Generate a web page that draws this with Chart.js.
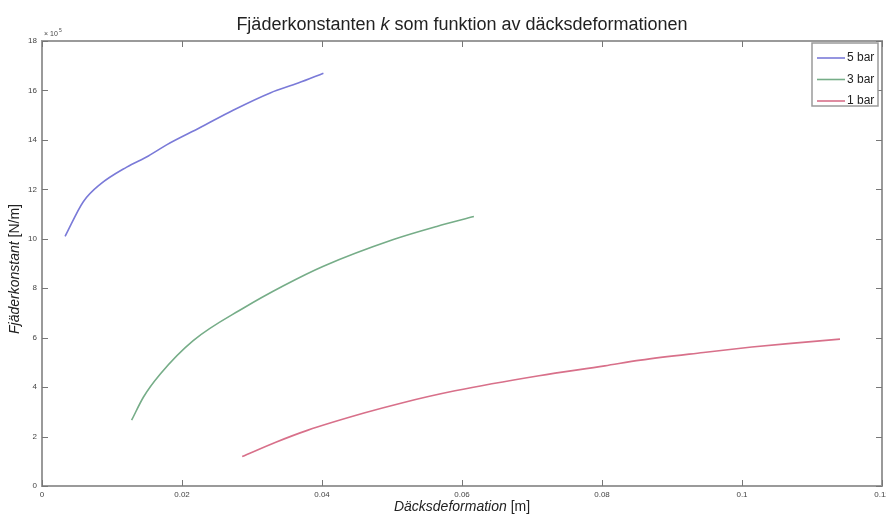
<!DOCTYPE html>
<html>
<head>
<meta charset="utf-8">
<script src="https://cdn.jsdelivr.net/npm/chart.js@4.4.1/dist/chart.umd.min.js"></script>
<style>
  html, body { margin: 0; padding: 0; background: #fff; }
  #wrap { width: 886px; height: 515px; }
</style>
</head>
<body>
<div id="wrap"><canvas id="chart"></canvas></div>
<script>
// ---- data ----
const xTicks = [0, 0.02, 0.04, 0.06, 0.08, 0.1, 0.12];
const yTicks = [0, 2, 4, 6, 8, 10, 12, 14, 16, 18];

const bar5X = [0.0033, 0.0059, 0.0083, 0.0121, 0.0152, 0.0178, 0.0226, 0.0273, 0.0326, 0.0366, 0.0402];
const bar5Y = [10.1, 11.5, 12.2, 12.9, 13.35, 13.8, 14.5, 15.2, 15.9, 16.3, 16.7];

const bar3X = [0.0128, 0.0145, 0.0169, 0.0216, 0.0288, 0.0345, 0.0402, 0.0502, 0.0564, 0.0617];
const bar3Y = [2.66, 3.6, 4.53, 5.88, 7.2, 8.1, 8.89, 9.97, 10.5, 10.9];

const bar1X = [0.0286, 0.0334, 0.0379, 0.0460, 0.0514, 0.0590, 0.0710, 0.0804, 0.0855, 0.0945, 0.1014, 0.1066, 0.1140];
const bar1Y = [1.19, 1.77, 2.25, 2.95, 3.36, 3.85, 4.46, 4.86, 5.09, 5.40, 5.62, 5.76, 5.94];

const seriesLabels = ['5 bar', '3 bar', '1 bar'];
const seriesColors = ['#7a7ad8', '#76ad88', '#d8708a'];

const FONT = '"Liberation Sans", Arial, sans-serif';
const FRAME = '#9a9a9a';

function pts(xs, ys) { return xs.map((x, i) => ({ x, y: ys[i] })); }

function line(label, data, color) {
  return {
    label, data,
    borderColor: color,
    borderWidth: 1.6,
    pointRadius: 0,
    fill: false,
    cubicInterpolationMode: 'monotone',
  };
}

// frame, inward ticks, mixed-style texts and the inset legend
const decor = {
  id: 'decor',
  afterDraw(chart) {
    const { ctx, chartArea: a, scales } = chart;
    ctx.save();
    ctx.strokeStyle = FRAME;
    ctx.lineWidth = 2;
    ctx.strokeRect(a.left, a.top, a.right - a.left, a.bottom - a.top);

    ctx.lineWidth = 1;
    ctx.strokeStyle = '#777';
    ctx.beginPath();
    xTicks.forEach(v => {
      const px = Math.round(scales.x.getPixelForValue(v)) + 0.5;
      ctx.moveTo(px, a.bottom); ctx.lineTo(px, a.bottom - 6);
      ctx.moveTo(px, a.top); ctx.lineTo(px, a.top + 6);
    });
    yTicks.forEach(v => {
      const py = Math.round(scales.y.getPixelForValue(v)) + 0.5;
      ctx.moveTo(a.left, py); ctx.lineTo(a.left + 6, py);
      ctx.moveTo(a.right, py); ctx.lineTo(a.right - 6, py);
    });
    ctx.stroke();

    ctx.fillStyle = '#222';
    ctx.textBaseline = 'middle';

    // title with italic k
    drawParts(ctx, [
      ['Fjäderkonstanten ', '18px ' + FONT],
      ['k', 'italic 18px ' + FONT],
      [' som funktion av däcksdeformationen', '18px ' + FONT],
    ], (a.left + a.right) / 2, 25);

    // x axis label
    drawParts(ctx, [
      ['Däcksdeformation', 'italic 14px ' + FONT],
      [' [m]', '14px ' + FONT],
    ], (a.left + a.right) / 2, 507);

    // y axis label, rotated
    ctx.save();
    ctx.translate(15, 269);
    ctx.rotate(-Math.PI / 2);
    drawParts(ctx, [
      ['Fjäderkonstant', 'italic 14px ' + FONT],
      [' [N/m]', '14px ' + FONT],
    ], 0, 0);
    ctx.restore();

    // exponent
    ctx.fillStyle = '#444';
    ctx.textAlign = 'left';
    ctx.font = '7px ' + FONT;
    ctx.fillText('× 10', a.left + 2, a.top - 7);
    ctx.font = '5px ' + FONT;
    ctx.fillText('5', a.left + 17, a.top - 10);

    // legend box
    const lx = 812, ly = 43, lw = 66, lh = 63;
    ctx.fillStyle = '#fff';
    ctx.fillRect(lx, ly, lw, lh);
    ctx.strokeStyle = FRAME;
    ctx.lineWidth = 1.5;
    ctx.strokeRect(lx, ly, lw, lh);
    chart.data.datasets.forEach((ds, i) => {
      const yy = ly + 15 + i * 21.5;
      ctx.strokeStyle = ds.borderColor;
      ctx.lineWidth = 1.6;
      ctx.beginPath();
      ctx.moveTo(lx + 5, yy); ctx.lineTo(lx + 33, yy);
      ctx.stroke();
      ctx.fillStyle = '#222';
      ctx.font = '12px ' + FONT;
      ctx.textAlign = 'left';
      ctx.fillText(ds.label, lx + 35, yy);
    });
    ctx.restore();
  }
};

function drawParts(ctx, parts, cx, cy) {
  let total = 0;
  parts.forEach(([t, f]) => { ctx.font = f; total += ctx.measureText(t).width; });
  let x = cx - total / 2;
  ctx.textAlign = 'left';
  parts.forEach(([t, f]) => {
    ctx.font = f;
    ctx.fillText(t, x, cy);
    x += ctx.measureText(t).width;
  });
}

new Chart(document.getElementById('chart'), {
  type: 'line',
  data: {
    datasets: [
      line(seriesLabels[0], pts(bar5X, bar5Y), seriesColors[0]),
      line(seriesLabels[1], pts(bar3X, bar3Y), seriesColors[1]),
      line(seriesLabels[2], pts(bar1X, bar1Y), seriesColors[2]),
    ]
  },
  options: {
    responsive: true,
    maintainAspectRatio: false,
    animation: false,
    layout: { padding: { top: 41, right: 4, left: 0, bottom: 0 } },
    plugins: { legend: { display: false }, title: { display: false }, tooltip: { enabled: false } },
    scales: {
      x: {
        type: 'linear', min: 0, max: 0.12,
        afterBuildTicks: s => { s.ticks = xTicks.map(v => ({ value: v })); },
        afterFit: s => { s.height = 29; s.paddingLeft = 0; s.paddingRight = 0; },
        grid: { display: false, drawTicks: false },
        border: { display: false },
        ticks: {
          padding: 4, color: '#444', font: { family: FONT, size: 8 },
          maxRotation: 0, autoSkip: false,
          callback: v => String(Number(v.toFixed(2))),
        }
      },
      y: {
        type: 'linear', min: 0, max: 18,
        afterBuildTicks: s => { s.ticks = yTicks.map(v => ({ value: v })); },
        afterFit: s => { s.width = 42; s.paddingTop = 0; s.paddingBottom = 0; },
        grid: { display: false, drawTicks: false },
        border: { display: false },
        ticks: { padding: 5, color: '#444', font: { family: FONT, size: 8 }, autoSkip: false }
      }
    }
  },
  plugins: [decor]
});
</script>
</body>
</html>
